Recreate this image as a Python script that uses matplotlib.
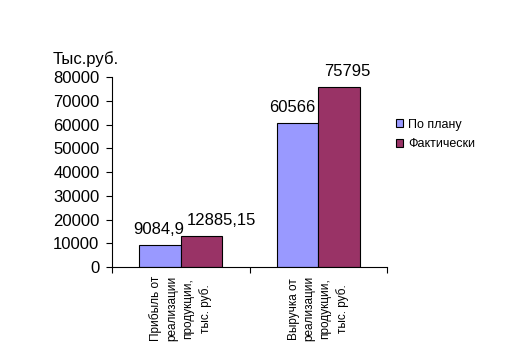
import matplotlib.pyplot as plt
import numpy as np

plt.rcParams['font.family'] = ['Liberation Sans', 'DejaVu Sans']

categories = ['Прибыль от\nреализации\nпродукции,\nтыс. руб.',
              'Выручка от\nреализации\nпродукции,\nтыс. руб.']
plan = [9084.9, 60566]
fact = [12885.15, 75795]
plan_labels = ['9084,9', '60566']
fact_labels = ['12885,15', '75795']

fig = plt.figure(figsize=(5.29, 3.57), dpi=100)
ax = fig.add_axes([0.2117, 0.2521, 0.5199, 0.5322])

x = np.arange(len(categories))
w = 0.302
ax.bar(x - w / 2, plan, w, color='#9999FF', edgecolor='black', linewidth=0.8, label='По плану')
ax.bar(x + w / 2, fact, w, color='#993366', edgecolor='black', linewidth=0.8, label='Фактически')

# Excel-style label placement (slightly shifted sideways)
for xi, v, lab, dx in zip(x - w / 2, plan, plan_labels, [-1, -4]):
    ax.annotate(lab, (xi, v), xytext=(dx, 6), textcoords='offset points',
                ha='center', va='bottom', fontsize=12)
for xi, v, lab, dx in zip(x + w / 2, fact, fact_labels, [14, 6]):
    ax.annotate(lab, (xi, v), xytext=(dx, 6), textcoords='offset points',
                ha='center', va='bottom', fontsize=12)

ax.set_xlim(-0.5, 1.5)
ax.set_ylim(0, 80000)
ax.set_yticks(range(0, 80001, 10000))
ax.tick_params(axis='y', labelsize=12, length=4, width=0.8, pad=5)
ax.set_xticks([-0.5, 0.5, 1.5])
ax.set_xticklabels([])
ax.tick_params(axis='x', which='major', length=4, width=0.8)
ax.set_xticks(x, minor=True)
ax.set_xticklabels(categories, minor=True, rotation=90, fontsize=8.5, linespacing=1.45,
                   ha='center', va='top', multialignment='center')
ax.tick_params(axis='x', which='minor', length=0, pad=6.5)
for s in ['top', 'right']:
    ax.spines[s].set_visible(False)
for s in ['left', 'bottom']:
    ax.spines[s].set_linewidth(0.8)

ax.text(-0.096, 1.055, 'Тыс.руб.', transform=ax.transAxes, fontsize=12, ha='center', va='bottom')

ax.legend(loc='upper left', bbox_to_anchor=(0.99, 0.84), frameon=False, fontsize=9,
          handlelength=0.6, handleheight=0.6, handletextpad=0.4, labelspacing=0.6)

fig.savefig('out.png', dpi=100)
